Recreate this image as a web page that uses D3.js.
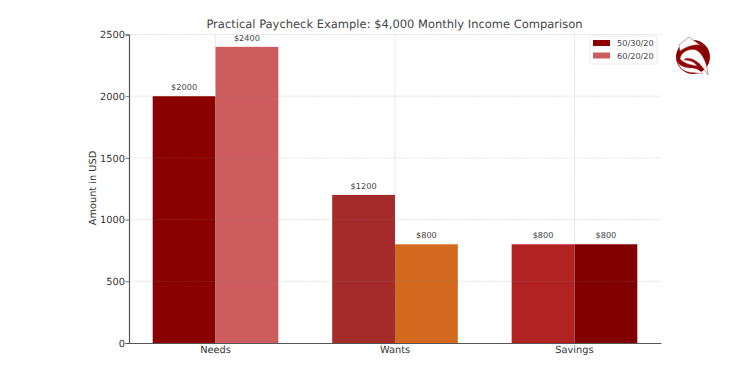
<!DOCTYPE html>
<html>
<head>
<meta charset="utf-8">
<script src="https://cdn.jsdelivr.net/npm/d3@7"></script>
<style>
  html, body { margin: 0; padding: 0; background: #fff; }
  text { font-family: "DejaVu Sans", sans-serif; text-rendering: geometricPrecision; }
</style>
</head>
<body>
<div id="wrapper"></div>
<script>
// chart data
const categories = ["Needs", "Wants", "Savings"]
const seriesNames = ["50/30/20", "60/20/20"]
const values5030 = [2000, 1200, 800]
const values6020 = [2400, 800, 800]
const colors5030 = ["#8b0000", "#a52a2a", "#b22222"]
const colors6020 = ["#cd5c5c", "#d2691e", "#800000"]
const legendColors = ["#8b0000", "#cd5c5c"]
const yTicks = [0, 500, 1000, 1500, 2000, 2500]
const titleText = "Practical Paycheck Example: $4,000 Monthly Income Comparison"
const yLabel = "Amount in USD"

const dimensions = {
  width: 750,
  height: 375,
  margins: { top: 34.5, right: 89, bottom: 32, left: 129 }
}
dimensions.boundedWidth = dimensions.width - dimensions.margins.left - dimensions.margins.right
dimensions.boundedHeight = dimensions.height - dimensions.margins.top - dimensions.margins.bottom

const wrapper = d3.select("#wrapper")
  .append("svg")
  .attr("width", dimensions.width)
  .attr("height", dimensions.height)
  .style("display", "block")

const bounds = wrapper.append("g")
  .attr("transform", `translate(${dimensions.margins.left}, ${dimensions.margins.top})`)

// scales
const xScale = d3.scaleBand()
  .domain(categories)
  .range([0, dimensions.boundedWidth])
  .paddingInner(0.3)
  .paddingOuter(0.132)

const seriesScale = d3.scaleBand()
  .domain(seriesNames)
  .range([0, xScale.bandwidth()])

const yScale = d3.scaleLinear()
  .domain([0, 2500])
  .range([dimensions.boundedHeight, 0])

// bars
const rows = [
  { name: seriesNames[0], values: values5030, colors: colors5030 },
  { name: seriesNames[1], values: values6020, colors: colors6020 }
]

rows.forEach(row => {
  const g = bounds.append("g")
  g.selectAll("rect")
    .data(categories)
    .join("rect")
    .attr("x", d => xScale(d) + seriesScale(row.name))
    .attr("y", (d, i) => yScale(row.values[i]))
    .attr("width", seriesScale.bandwidth())
    .attr("height", (d, i) => dimensions.boundedHeight - yScale(row.values[i]))
    .attr("fill", (d, i) => row.colors[i])

  g.selectAll("text")
    .data(categories)
    .join("text")
    .attr("x", d => xScale(d) + seriesScale(row.name) + seriesScale.bandwidth() / 2)
    .attr("y", (d, i) => yScale(row.values[i]) - 6)
    .attr("text-anchor", "middle")
    .attr("font-size", 8.2)
    .attr("fill", "#444")
    .text((d, i) => "$" + row.values[i])
})

// grid goes over the bars, it shows through faintly
const grid = bounds.append("g")
  .attr("stroke", "#888")
  .attr("stroke-opacity", 0.35)
  .attr("stroke-width", 0.8)
  .attr("stroke-dasharray", "1.5,1")

grid.selectAll(".gy")
  .data(yTicks.slice(1))
  .join("line")
  .attr("class", "gy")
  .attr("x1", 0)
  .attr("x2", dimensions.boundedWidth)
  .attr("y1", d => yScale(d))
  .attr("y2", d => yScale(d))

grid.selectAll(".gx")
  .data(categories)
  .join("line")
  .attr("class", "gx")
  .attr("x1", d => xScale(d) + xScale.bandwidth() / 2)
  .attr("x2", d => xScale(d) + xScale.bandwidth() / 2)
  .attr("y1", 0)
  .attr("y2", dimensions.boundedHeight)

// axes
const yAxis = bounds.append("g")
  .call(d3.axisLeft(yScale).tickValues(yTicks).tickFormat(d3.format("d")).tickSize(3.5).tickPadding(0.5))
const xAxis = bounds.append("g")
  .attr("transform", `translate(0, ${dimensions.boundedHeight})`)
  .call(d3.axisBottom(xScale).tickSize(0).tickPadding(3.5))

yAxis.selectAll("text").attr("font-size", 9.8).attr("font-family", "DejaVu Sans").attr("fill", "#333")
xAxis.selectAll("text").attr("font-size", 9.8).attr("font-family", "DejaVu Sans").attr("fill", "#333")
yAxis.select(".domain").attr("stroke", "#555").attr("stroke-width", 1.2)
xAxis.select(".domain").attr("stroke", "#555").attr("stroke-width", 1.2)
yAxis.selectAll(".tick line").attr("stroke", "#555").attr("stroke-width", 0.8)

// title and y label
wrapper.append("text")
  .attr("x", 394.5)
  .attr("y", 27.5)
  .attr("text-anchor", "middle")
  .attr("font-size", 11.5)
  .attr("fill", "#444")
  .text(titleText)

wrapper.append("text")
  .attr("transform", "translate(95.5, 188) rotate(-90)")
  .attr("text-anchor", "middle")
  .attr("font-size", 9.8)
  .attr("fill", "#333")
  .text(yLabel)

// legend
const legend = wrapper.append("g").attr("transform", "translate(590, 36)")
legend.append("rect")
  .attr("width", 67)
  .attr("height", 28)
  .attr("rx", 1.5)
  .attr("fill", "#fff")
  .attr("stroke", "#e4e4e4")
  .attr("stroke-width", 0.8)

seriesNames.forEach((name, i) => {
  legend.append("rect")
    .attr("x", 3)
    .attr("y", 4 + i * 12.5)
    .attr("width", 17)
    .attr("height", 6)
    .attr("fill", legendColors[i])
  legend.append("text")
    .attr("x", 27)
    .attr("y", 10.3 + i * 12.5)
    .attr("font-size", 8.2)
    .attr("fill", "#444")
    .text(name)
})

// logo in the top right corner
const logo = wrapper.append("g").attr("transform", "translate(693, 57)")
logo.append("circle").attr("r", 17).attr("fill", "#8b0000")
logo.append("path")
  .attr("d", "M-14,-12 L-4,-20 L7,-12 C2,-13 -6,-11 -13,-6 Z")
  .attr("fill", "#fff")
  .attr("stroke", "#b55")
  .attr("stroke-width", 0.6)
logo.append("path")
  .attr("d", "M-13,2 C-12,-5 -4,-9 3,-7 C9,-4 14,5 15,18 C10,10 5,4 -1,2 C-5,1 -8,1 -9,3 C-4,3 2,5 4,9 C-3,8 -9,6 -13,2 Z")
  .attr("fill", "#fff")
  .attr("stroke", "#b55")
  .attr("stroke-width", 0.6)
logo.append("path")
  .attr("d", "M-17,3 C-14,9 -8,11 -1,11 C3,11 7,13 10,17 C3,15 -8,17 -13,10 Z")
  .attr("fill", "#fff")
  .attr("stroke", "#b55")
  .attr("stroke-width", 0.5)
</script>
</body>
</html>
